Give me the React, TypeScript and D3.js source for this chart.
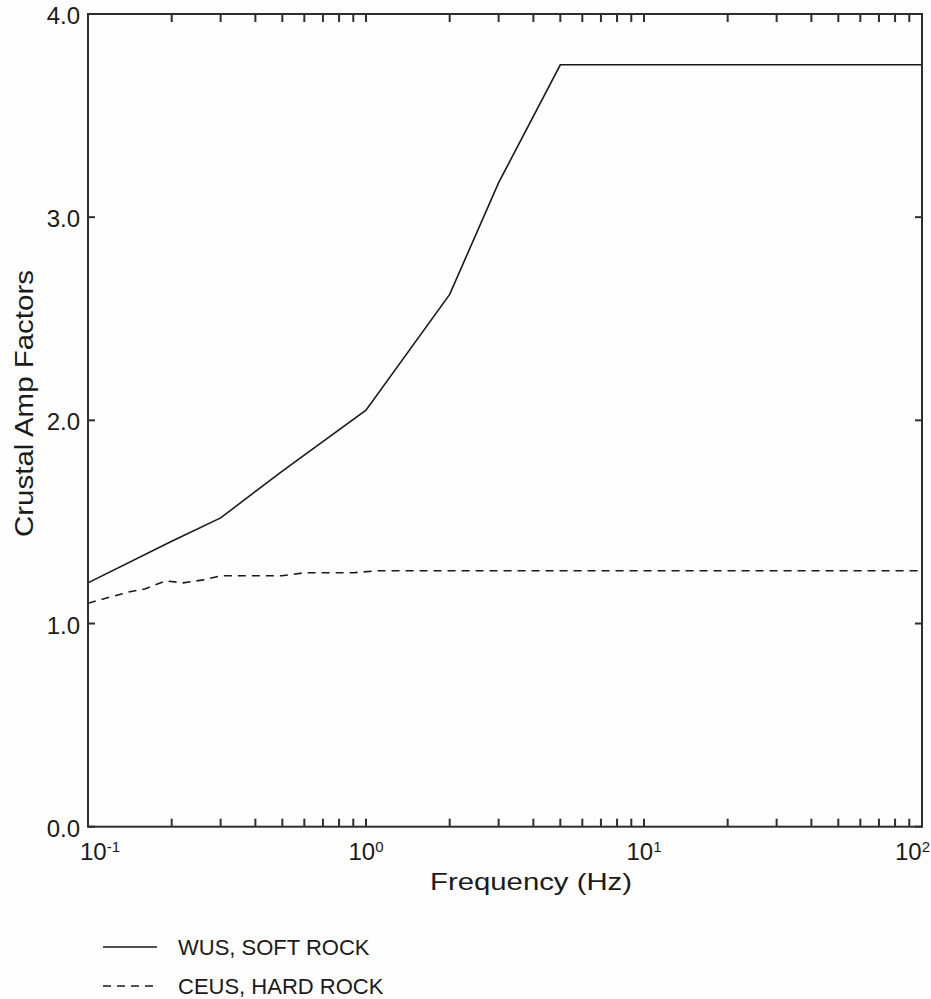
import React from "react";
import * as d3 from "d3";

const wusFreq = [0.1, 0.2, 0.3, 0.5, 1, 2, 3, 5, 100];
const wusAmp = [1.2, 1.405, 1.52, 1.75, 2.05, 2.62, 3.17, 3.75, 3.75];

const ceusFreq = [0.1, 0.12, 0.14, 0.16, 0.19, 0.22, 0.26, 0.3, 0.5, 0.6, 0.9, 1.1, 100];
const ceusAmp = [1.1, 1.13, 1.155, 1.17, 1.21, 1.2, 1.215, 1.235, 1.235, 1.25, 1.25, 1.26, 1.26];

const yTicks = [0, 1, 2, 3, 4];
const xDecades = [0.1, 1, 10, 100];
const xExponents = ["-1", "0", "1", "2"];
const legendLabels = ["WUS, SOFT ROCK", "CEUS, HARD ROCK"];

const W = 931;
const H = 999;
const left = 88;
const right = 922;
const top = 14;
const bottom = 826.7;

const FONT = "'Liberation Sans', Arial, Helvetica, sans-serif";
const AXIS = "#2e2e2e";
const INK = "#1a1a1a";

export default function App() {
  const x = d3.scaleLog().domain([0.1, 100]).range([left, right]);
  const y = d3.scaleLinear().domain([0, 4]).range([bottom, top]);
  const line = d3
    .line<[number, number]>()
    .x((d) => x(d[0]))
    .y((d) => y(d[1]));

  const wus = wusFreq.map((f, i) => [f, wusAmp[i]] as [number, number]);
  const ceus = ceusFreq.map((f, i) => [f, ceusAmp[i]] as [number, number]);

  const minorX: number[] = [];
  [0.1, 1, 10].forEach((dec) => {
    for (let k = 1; k <= 9; k++) {
      const v = dec * k;
      if (v > 0.1 && v < 100) minorX.push(v);
    }
  });
  const tickLen = 8;

  return (
    <svg
      width={W}
      height={H}
      style={{ position: "absolute", left: 0, top: 0, background: "#fff" }}
      fontFamily={FONT}
    >
      <defs>
        <clipPath id="plot">
          <rect x={left} y={top} width={right - left} height={bottom - top} />
        </clipPath>
      </defs>
      <rect width={W} height={H} fill="#fefefe" />

      {/* x ticks top and bottom */}
      {minorX.map((v, i) => (
        <g key={"xt" + i} stroke={AXIS} strokeWidth={2}>
          <line x1={x(v)} x2={x(v)} y1={bottom} y2={bottom - tickLen} />
          <line x1={x(v)} x2={x(v)} y1={top} y2={top + tickLen} />
        </g>
      ))}
      {/* y ticks left and right */}
      {yTicks.map((v, i) => (
        <g key={"yt" + i} stroke={AXIS} strokeWidth={2}>
          <line x1={left} x2={left + 7} y1={y(v)} y2={y(v)} />
          <line x1={right} x2={right - 7} y1={y(v)} y2={y(v)} />
        </g>
      ))}

      {/* curves */}
      <g clipPath="url(#plot)" fill="none">
        <path d={line(wus) || ""} stroke={INK} strokeWidth={1.6} />
        <path d={line(ceus) || ""} stroke={INK} strokeWidth={1.6} strokeDasharray="8,6" />
      </g>

      {/* frame */}
      <rect
        x={left}
        y={top}
        width={right - left}
        height={bottom - top}
        fill="none"
        stroke={AXIS}
        strokeWidth={2}
      />

      {/* y tick labels */}
      {yTicks.map((v, i) => (
        <text
          key={"yl" + i}
          x={left - 8}
          y={y(v) + 10}
          textAnchor="end"
          fontSize={24}
          fill={INK}
        >
          {d3.format(".1f")(v)}
        </text>
      ))}

      {/* x tick labels */}
      {xDecades.map((v, i) => {
        const anchor = i === 0 ? "start" : i === xDecades.length - 1 ? "end" : "middle";
        const px = i === 0 ? x(v) - 8 : i === xDecades.length - 1 ? x(v) + 8 : x(v);
        return (
          <text key={"xl" + i} x={px} y={bottom + 33} textAnchor={anchor} fontSize={24} fill={INK}>
            10
            <tspan fontSize={15} dy={-8}>
              {xExponents[i]}
            </tspan>
          </text>
        );
      })}

      {/* axis titles */}
      <text
        x={(left + right) / 2 + 26}
        y={890}
        textAnchor="middle"
        fontSize={24}
        fill={INK}
        textLength={202}
        lengthAdjust="spacingAndGlyphs"
      >
        Frequency (Hz)
      </text>
      <text
        transform={`translate(33, ${403.5}) rotate(-90)`}
        textAnchor="middle"
        fontSize={25}
        fill={INK}
        textLength={267}
        lengthAdjust="spacingAndGlyphs"
      >
        Crustal Amp Factors
      </text>

      {/* legend */}
      {legendLabels.map((lab, i) => {
        const ly = 947 + i * 39;
        return (
          <g key={"lg" + i}>
            <line
              x1={103}
              x2={157}
              y1={ly}
              y2={ly}
              stroke={INK}
              strokeWidth={1.6}
              strokeDasharray={i === 1 ? "8,6" : undefined}
            />
            <text x={178} y={ly + 8} fontSize={22} fill={INK}>
              {lab}
            </text>
          </g>
        );
      })}
    </svg>
  );
}
